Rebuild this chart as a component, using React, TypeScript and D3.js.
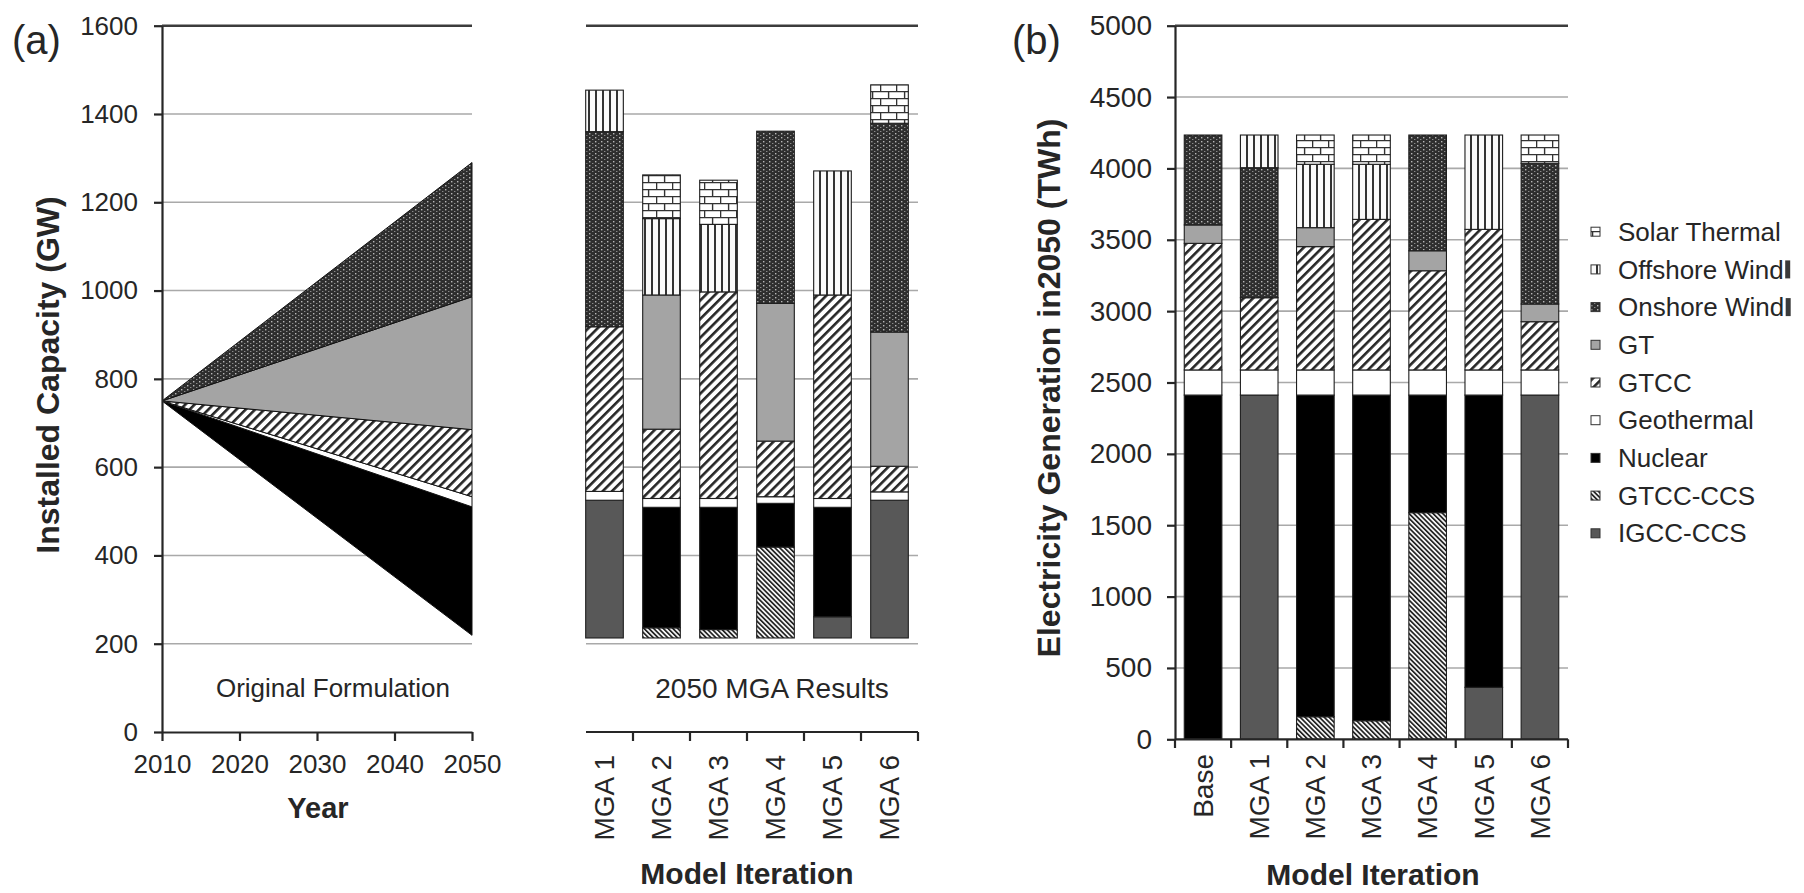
import React, { useEffect, useRef } from "react";
import * as d3 from "d3";

// (a) original formulation, installed capacity (GW) – stacked on a hidden existing-capacity layer
const years = [2010, 2050];
const areaExisting = [750, 219];
const areaNuclear = [0, 291];
const areaGeothermal = [0, 23];
const areaGTCC = [0, 152];
const areaGT = [0, 301];
const areaOnshore = [0, 304];

// (a) 2050 MGA results (GW)
const mgaLabels = ["MGA 1", "MGA 2", "MGA 3", "MGA 4", "MGA 5", "MGA 6"];
const capHidden = [213, 213, 213, 213, 213, 213];
const capIGCC = [312, 0, 0, 0, 48, 312];
const capGTCCCCS = [0, 23, 19, 206, 0, 0];
const capNuclear = [0, 273, 277, 99, 248, 0];
const capGeothermal = [20, 20, 20, 15, 20, 19];
const capGTCC = [373, 157, 468, 126, 461, 58];
const capGT = [0, 304, 0, 312, 0, 304];
const capOnshore = [442, 0, 0, 390, 0, 473];
const capOffshore = [94, 173, 153, 0, 281, 0];
const capSolar = [0, 99, 100, 0, 0, 87];

// (b) electricity generation in 2050 (TWh)
const genLabels = ["Base", "MGA 1", "MGA 2", "MGA 3", "MGA 4", "MGA 5", "MGA 6"];
const genIGCC = [0, 2412, 0, 0, 0, 364, 2412];
const genGTCCCCS = [0, 0, 158, 130, 1588, 0, 0];
const genNuclear = [2412, 0, 2254, 2282, 824, 2048, 0];
const genGeothermal = [176, 176, 176, 176, 176, 176, 176];
const genGTCC = [887, 506, 864, 1055, 695, 985, 338];
const genGT = [129, 0, 133, 0, 140, 0, 124];
const genOnshore = [630, 911, 0, 0, 811, 0, 986];
const genOffshore = [0, 229, 444, 386, 0, 661, 0];
const genSolar = [0, 0, 205, 205, 0, 0, 198];

const capTicks = [0, 200, 400, 600, 800, 1000, 1200, 1400, 1600];
const genTicks = [0, 500, 1000, 1500, 2000, 2500, 3000, 3500, 4000, 4500, 5000];
const yearTicks = [2010, 2020, 2030, 2040, 2050];

const techKeys = ["igcc", "gtccccs", "nuclear", "geothermal", "gtcc", "gt", "onshore", "offshore", "solar"];
const legendKeys = ["solar", "offshore", "onshore", "gt", "gtcc", "geothermal", "nuclear", "gtccccs", "igcc"];
const legendNames = ["Solar Thermal", "Offshore Wind", "Onshore Wind", "GT", "GTCC", "Geothermal", "Nuclear", "GTCC-CCS", "IGCC-CCS"];

const fills: Record<string, string> = {
  igcc: "#585858",
  gtccccs: "url(#pGtccCcs)",
  nuclear: "#000",
  geothermal: "#fff",
  gtcc: "url(#pGtcc)",
  gt: "#a4a4a4",
  onshore: "url(#pOnshore)",
  offshore: "url(#pOffshore)",
  solar: "url(#pSolar)",
};

export default function App() {
  const ref = useRef<SVGSVGElement>(null);

  useEffect(() => {
    const svg = d3.select(ref.current);
    svg.selectAll("*").remove();
    svg.attr("font-family", "Liberation Sans, Arial, Helvetica, sans-serif");
    const ink = "#262626";
    const fmt = d3.format("d");

    // patterns
    const defs = svg.append("defs");
    const pGtcc = defs.append("pattern").attr("id", "pGtcc").attr("patternUnits", "userSpaceOnUse")
      .attr("width", 6.6).attr("height", 6.6).attr("patternTransform", "rotate(45)");
    pGtcc.append("rect").attr("width", 6.6).attr("height", 6.6).attr("fill", "#fff");
    pGtcc.append("rect").attr("width", 2.6).attr("height", 6.6).attr("fill", "#262626");

    const pCcs = defs.append("pattern").attr("id", "pGtccCcs").attr("patternUnits", "userSpaceOnUse")
      .attr("width", 3.4).attr("height", 3.4).attr("patternTransform", "rotate(-45)");
    pCcs.append("rect").attr("width", 3.4).attr("height", 3.4).attr("fill", "#f4f4f4");
    pCcs.append("rect").attr("width", 1.6).attr("height", 3.4).attr("fill", "#1a1a1a");

    const pOff = defs.append("pattern").attr("id", "pOffshore").attr("patternUnits", "userSpaceOnUse")
      .attr("width", 7).attr("height", 10);
    pOff.append("rect").attr("width", 7).attr("height", 10).attr("fill", "#fafafa");
    pOff.append("rect").attr("width", 2).attr("height", 10).attr("fill", "#333");

    const pOn = defs.append("pattern").attr("id", "pOnshore").attr("patternUnits", "userSpaceOnUse")
      .attr("width", 6).attr("height", 4);
    pOn.append("rect").attr("width", 6).attr("height", 4).attr("fill", "#2e2e2e");
    pOn.append("rect").attr("x", 1).attr("y", 1).attr("width", 1.4).attr("height", 1.4).attr("fill", "#b8b8b8");
    pOn.append("rect").attr("x", 4).attr("y", 3).attr("width", 1.4).attr("height", 1).attr("fill", "#8a8a8a");

    const pSol = defs.append("pattern").attr("id", "pSolar").attr("patternUnits", "userSpaceOnUse")
      .attr("width", 16).attr("height", 14);
    pSol.append("rect").attr("width", 16).attr("height", 14).attr("fill", "#fff");
    pSol.append("path").attr("d", "M0,0.6H16M0,7.6H16M0.6,0V7.6M8.6,7.6V14")
      .attr("stroke", "#333").attr("stroke-width", 1.4).attr("fill", "none");

    // ---------- panel (a) ----------
    const yCap = d3.scaleLinear().domain([0, 1600]).range([732, 25.7]);
    const xYear = d3.scaleLinear().domain([2010, 2050]).range([162, 472]);
    const xMga = d3.scaleBand().domain(mgaLabels).range([576, 918]).paddingInner(0.34).paddingOuter(0.17);

    // gridlines
    const gridSpans = [[162, 472], [586, 918]];
    gridSpans.forEach(([x0, x1]) => {
      svg.append("g").selectAll("line").data(capTicks.filter((t) => t > 0)).join("line")
        .attr("x1", x0).attr("x2", x1)
        .attr("y1", (t) => yCap(t)).attr("y2", (t) => yCap(t))
        .attr("stroke", (t) => (t === 1600 ? "#3c3c3c" : "#a9a9a9"))
        .attr("stroke-width", (t) => (t === 1600 ? 2.6 : 1.6));
    });

    // stacked area
    const areaRows = years.map((year, i) => ({
      year,
      existing: areaExisting[i],
      nuclear: areaNuclear[i],
      geothermal: areaGeothermal[i],
      gtcc: areaGTCC[i],
      gt: areaGT[i],
      onshore: areaOnshore[i],
    }));
    const areaSeries = d3.stack<any>().keys(["existing", "nuclear", "geothermal", "gtcc", "gt", "onshore"])(areaRows);
    const area = d3.area<any>()
      .x((d) => xYear(d.data.year))
      .y0((d) => yCap(d[0]))
      .y1((d) => yCap(d[1]));
    svg.append("g").selectAll("path").data(areaSeries.filter((s) => s.key !== "existing")).join("path")
      .attr("d", (s: any) => area(s))
      .attr("fill", (s) => fills[s.key])
      .attr("stroke", "#111").attr("stroke-width", 1);

    // MGA bars
    const capRows = mgaLabels.map((label, i) => ({
      label,
      hidden: capHidden[i],
      igcc: capIGCC[i],
      gtccccs: capGTCCCCS[i],
      nuclear: capNuclear[i],
      geothermal: capGeothermal[i],
      gtcc: capGTCC[i],
      gt: capGT[i],
      onshore: capOnshore[i],
      offshore: capOffshore[i],
      solar: capSolar[i],
    }));
    const capSeries = d3.stack<any>().keys(["hidden", ...techKeys])(capRows);
    svg.append("g").selectAll("g").data(capSeries.filter((s) => s.key !== "hidden")).join("g")
      .attr("fill", (s) => fills[s.key])
      .selectAll("rect").data((s) => s.filter((d) => d[1] - d[0] > 0)).join("rect")
      .attr("x", (d: any) => xMga(d.data.label)!)
      .attr("width", xMga.bandwidth())
      .attr("y", (d) => yCap(d[1]))
      .attr("height", (d) => yCap(d[0]) - yCap(d[1]))
      .attr("stroke", "#1e1e1e").attr("stroke-width", 1.1);

    // axes (a)
    const yAxisA = svg.append("g").attr("transform", "translate(162,0)")
      .call(d3.axisLeft(yCap).tickValues(capTicks).tickFormat(fmt).tickSize(8).tickSizeOuter(0).tickPadding(16));
    const xAxisA = svg.append("g").attr("transform", "translate(0,732)")
      .call(d3.axisBottom(xYear).tickValues(yearTicks).tickFormat(fmt).tickSize(9).tickSizeOuter(0).tickPadding(14));
    [yAxisA, xAxisA].forEach((g) => {
      g.selectAll("path, line").attr("stroke", ink).attr("stroke-width", 2.2);
      g.selectAll("text").attr("font-size", 26).attr("fill", ink).attr("font-family", null);
    });

    const stepA = xMga.step();
    const mgaBounds = mgaLabels.map((l) => xMga(l)! - (stepA * xMga.paddingInner()) / 2 + stepA);
    const mgaAxis = svg.append("g");
    mgaAxis.append("line").attr("x1", 586).attr("x2", 918).attr("y1", 732).attr("y2", 732)
      .attr("stroke", ink).attr("stroke-width", 2.2);
    mgaAxis.selectAll("line.tick").data(mgaBounds).join("line").attr("class", "tick")
      .attr("x1", (x) => x).attr("x2", (x) => x).attr("y1", 732).attr("y2", 741)
      .attr("stroke", ink).attr("stroke-width", 2.2);
    mgaAxis.selectAll("text").data(mgaLabels).join("text")
      .attr("transform", (l) => `translate(${xMga(l)! + xMga.bandwidth() / 2},755) rotate(-90)`)
      .attr("text-anchor", "end").attr("dy", "0.35em")
      .attr("font-size", 28).attr("fill", ink).text((l) => l);

    // labels (a)
    svg.append("text").attr("x", 12).attr("y", 54).attr("font-size", 40).attr("fill", ink).text("(a)");
    svg.append("text").attr("transform", "translate(48,375) rotate(-90)")
      .attr("text-anchor", "middle").attr("dy", "0.35em")
      .attr("font-size", 32).attr("font-weight", "bold").attr("fill", ink).text("Installed Capacity (GW)");
    svg.append("text").attr("x", 318).attr("y", 818).attr("text-anchor", "middle")
      .attr("font-size", 29).attr("font-weight", "bold").attr("fill", ink).text("Year");
    svg.append("text").attr("x", 747).attr("y", 884).attr("text-anchor", "middle")
      .attr("font-size", 30).attr("font-weight", "bold").attr("fill", ink).text("Model Iteration");
    svg.append("text").attr("x", 333).attr("y", 697).attr("text-anchor", "middle")
      .attr("font-size", 26).attr("fill", ink).text("Original Formulation");
    svg.append("text").attr("x", 772).attr("y", 698).attr("text-anchor", "middle")
      .attr("font-size", 28).attr("fill", ink).text("2050 MGA Results");

    // ---------- panel (b) ----------
    const yGen = d3.scaleLinear().domain([0, 5000]).range([739.3, 25.7]);
    const xGen = d3.scaleBand().domain(genLabels).range([1175, 1568]).paddingInner(0.33).paddingOuter(0.165);

    svg.append("g").selectAll("line").data(genTicks.filter((t) => t > 0)).join("line")
      .attr("x1", 1175).attr("x2", 1568)
      .attr("y1", (t) => yGen(t)).attr("y2", (t) => yGen(t))
      .attr("stroke", (t) => (t === 5000 ? "#3c3c3c" : "#a9a9a9"))
      .attr("stroke-width", (t) => (t === 5000 ? 2.6 : 1.6));

    const genRows = genLabels.map((label, i) => ({
      label,
      igcc: genIGCC[i],
      gtccccs: genGTCCCCS[i],
      nuclear: genNuclear[i],
      geothermal: genGeothermal[i],
      gtcc: genGTCC[i],
      gt: genGT[i],
      onshore: genOnshore[i],
      offshore: genOffshore[i],
      solar: genSolar[i],
    }));
    const genSeries = d3.stack<any>().keys(techKeys)(genRows);
    svg.append("g").selectAll("g").data(genSeries).join("g")
      .attr("fill", (s) => fills[s.key])
      .selectAll("rect").data((s) => s.filter((d) => d[1] - d[0] > 0)).join("rect")
      .attr("x", (d: any) => xGen(d.data.label)!)
      .attr("width", xGen.bandwidth())
      .attr("y", (d) => yGen(d[1]))
      .attr("height", (d) => yGen(d[0]) - yGen(d[1]))
      .attr("stroke", "#1e1e1e").attr("stroke-width", 1.1);

    const yAxisB = svg.append("g").attr("transform", "translate(1175,0)")
      .call(d3.axisLeft(yGen).tickValues(genTicks).tickFormat(fmt).tickSize(8).tickSizeOuter(0).tickPadding(15));
    yAxisB.selectAll("path, line").attr("stroke", ink).attr("stroke-width", 2.2);
    yAxisB.selectAll("text").attr("font-size", 28).attr("fill", ink).attr("font-family", null);

    const stepB = xGen.step();
    const genBounds = [1175, ...genLabels.map((l) => xGen(l)! - (stepB * xGen.paddingInner()) / 2 + stepB)];
    const genAxis = svg.append("g");
    genAxis.append("line").attr("x1", 1175).attr("x2", 1568).attr("y1", 739.3).attr("y2", 739.3)
      .attr("stroke", ink).attr("stroke-width", 2.2);
    genAxis.selectAll("line.tick").data(genBounds).join("line").attr("class", "tick")
      .attr("x1", (x) => x).attr("x2", (x) => x).attr("y1", 739.3).attr("y2", 748)
      .attr("stroke", ink).attr("stroke-width", 2.2);
    genAxis.selectAll("text").data(genLabels).join("text")
      .attr("transform", (l) => `translate(${xGen(l)! + xGen.bandwidth() / 2},754) rotate(-90)`)
      .attr("text-anchor", "end").attr("dy", "0.35em")
      .attr("font-size", 28).attr("fill", ink).text((l) => l);

    svg.append("text").attr("x", 1012).attr("y", 54).attr("font-size", 40).attr("fill", ink).text("(b)");
    svg.append("text").attr("transform", "translate(1049,388) rotate(-90)")
      .attr("text-anchor", "middle").attr("dy", "0.35em")
      .attr("font-size", 32).attr("font-weight", "bold").attr("fill", ink)
      .text("Electricity Generation in2050 (TWh)");
    svg.append("text").attr("x", 1373).attr("y", 885).attr("text-anchor", "middle")
      .attr("font-size", 30).attr("font-weight", "bold").attr("fill", ink).text("Model Iteration");

    // legend
    const legend = svg.append("g");
    legendKeys.forEach((key, i) => {
      const cy = 231.7 + i * 37.7;
      legend.append("rect").attr("x", 1591).attr("y", cy - 4.5).attr("width", 9).attr("height", 9)
        .attr("fill", fills[key]).attr("stroke", "#333").attr("stroke-width", 1);
      const label = legend.append("text").attr("x", 1618).attr("y", cy).attr("dy", "0.35em")
        .attr("font-size", 26).attr("fill", ink).text(legendNames[i]);
      if (key === "onshore" || key === "offshore") {
        const w = (label.node() as SVGTextElement).getComputedTextLength();
        legend.append("rect").attr("x", 1618 + w + 1.5).attr("y", cy - 9).attr("width", 5).attr("height", 18).attr("fill", "#3a3a3a");
      }
    });
  }, []);

  return (
    <svg
      ref={ref}
      width={1804}
      height={893}
      style={{ position: "absolute", left: 0, top: 0, display: "block", background: "#fff" }}
    ></svg>
  );
}
